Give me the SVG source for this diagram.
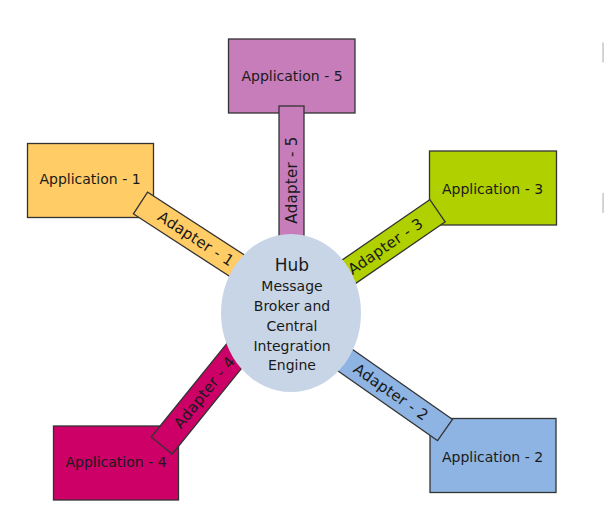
<svg xmlns="http://www.w3.org/2000/svg" width="604" height="525" viewBox="0 0 604 525">
<style>
.box{stroke:#333;stroke-width:1.3}
.t{font-family:"DejaVu Sans","Liberation Sans",sans-serif;font-size:14px;fill:#1a1a1a;text-anchor:middle}
.a{font-family:"DejaVu Sans","Liberation Sans",sans-serif;font-size:15px;fill:#1a1a1a;text-anchor:middle;dominant-baseline:central;letter-spacing:0.3px}
.c1{fill:#FFCC66}.c2{fill:#8DB4E2}.c3{fill:#B0D000}.c4{fill:#CC0066}.c5{fill:#C77DBA}
</style>
<rect width="604" height="525" fill="#fff"/>
<rect x="602.3" y="42.5" width="1.5" height="20" fill="#c8c8c8"/>
<rect x="602.3" y="193" width="1.5" height="20" fill="#c8c8c8"/>

<g id="app5"><rect class="box c5" x="228.5" y="39" width="126.5" height="74"/><text class="t" x="292" y="81">Application - 5</text></g>
<g id="app1"><rect class="box c1" x="27.5" y="143.5" width="126" height="74"/><text class="t" x="90" y="184">Application - 1</text></g>
<g id="app3"><rect class="box c3" x="429.5" y="151" width="127" height="74"/><text class="t" x="492.5" y="194">Application - 3</text></g>
<g id="app4"><rect class="box c4" x="53.5" y="426" width="125" height="74"/><text class="t" x="116" y="467">Application - 4</text></g>
<g id="app2"><rect class="box c2" x="430" y="418.5" width="126" height="74"/><text class="t" x="492.5" y="461.5">Application - 2</text></g>

<g id="connectors">
<g id="adapter5"><rect class="box c5" x="279" y="106" width="25" height="154"/><text class="a" transform="translate(291.5,180) rotate(-90)" x="0" y="0">Adapter - 5</text></g>
<g id="adapter1" transform="translate(140.5,203) rotate(33)"><rect class="box c1" x="0" y="-13" width="140" height="26"/><text class="a" x="66" y="0">Adapter - 1</text></g>
<g id="adapter3" transform="translate(437.5,210.8) rotate(-34.5)"><rect class="box c3" x="-140" y="-13.5" width="140" height="27"/><text class="a" x="-63" y="0">Adapter - 3</text></g>
<g id="adapter4" transform="translate(161.7,445.5) rotate(-51)"><rect class="box c4" x="0" y="-13.5" width="140" height="27"/><text class="a" x="68" y="0">Adapter - 4</text></g>
<g id="adapter2" transform="translate(445,430) rotate(35)"><rect class="box c2" x="-140" y="-13" width="140" height="26"/><text class="a" x="-66" y="0">Adapter - 2</text></g>
</g>

<g id="hub">
<ellipse cx="291" cy="313" rx="70" ry="79" fill="#C8D5E7"/>
<text class="t" x="292" y="271" style="font-size:17px">Hub</text>
<text class="t" x="292" y="291">Message</text>
<text class="t" x="292" y="311">Broker and</text>
<text class="t" x="292" y="331">Central</text>
<text class="t" x="292" y="351">Integration</text>
<text class="t" x="292" y="370">Engine</text>
</g>
</svg>
